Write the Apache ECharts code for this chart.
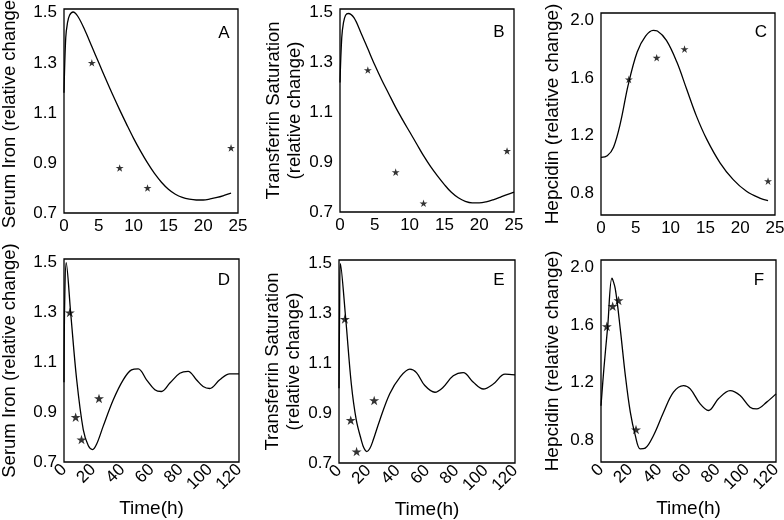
<!DOCTYPE html>
<html>
<head>
<meta charset="utf-8">
<script src="https://cdn.jsdelivr.net/npm/echarts@6/dist/echarts.min.js"></script>
<style>
  html, body { margin: 0; padding: 0; background: #fff; }
  #chart { width: 784px; height: 520px; }
</style>
</head>
<body>
<div id="chart"></div>
<script>
// measured time points (h)
const obsTime = [4, 8, 12, 24];

// panel A - serum iron, 0-25h
const ironShortT = [0, 0.25, 0.5, 0.8, 1.3, 2, 3, 4, 5, 6, 7, 8, 9, 10, 11, 12, 13, 14, 15, 16, 17, 18, 19, 20, 21, 22, 23, 24];
const ironShortV = [1.18, 1.4, 1.46, 1.49, 1.503, 1.485, 1.43, 1.365, 1.3, 1.235, 1.172, 1.112, 1.054, 0.998, 0.947, 0.9, 0.858, 0.823, 0.795, 0.775, 0.762, 0.755, 0.752, 0.752, 0.756, 0.762, 0.77, 0.779];
const ironObs = [1.3, 0.88, 0.8, 0.96];

// panel B - transferrin saturation, 0-25h
const tsatShortT = [0, 0.25, 0.5, 0.8, 1.2, 2, 3, 4, 5, 6, 7, 8, 9, 10, 11, 12, 13, 14, 15, 16, 17, 18, 19, 20, 21, 22, 23, 24, 25];
const tsatShortV = [1.22, 1.4, 1.46, 1.49, 1.497, 1.48, 1.42, 1.355, 1.29, 1.23, 1.175, 1.12, 1.07, 1.022, 0.974, 0.926, 0.883, 0.845, 0.81, 0.779, 0.757, 0.743, 0.737, 0.737, 0.741, 0.749, 0.759, 0.77, 0.78];
const tsatObs = [1.27, 0.86, 0.735, 0.945];

// panel C - hepcidin, 0-25h
const hepShortT = [0, 0.9, 1.8, 2.8, 3.9, 5.2, 6.4, 7.5, 8.1, 9.4, 10.9, 12.3, 13.7, 15.2, 17.1, 19, 20.9, 22.8, 24];
const hepShortV = [1.05, 1.06, 1.12, 1.29, 1.55, 1.78, 1.89, 1.93, 1.925, 1.86, 1.71, 1.523, 1.337, 1.174, 1.012, 0.895, 0.814, 0.767, 0.749];
const hepObs = [1.59, 1.74, 1.8, 0.885];

// panel D - serum iron, 0-120h
const ironLongT = [0, 0.5, 1.5, 4.6, 8.7, 13.2, 16.7, 19.6, 22.4, 26.9, 33.8, 40.6, 46.3, 50.9, 56.6, 62.3, 66.8, 72.6, 79.4, 85.1, 90.8, 95.4, 99.9, 106.8, 113.6, 120];
const ironLongV = [1.02, 1.35, 1.5, 1.297, 1.03, 0.83, 0.765, 0.75, 0.772, 0.844, 0.95, 1.03, 1.07, 1.074, 1.03, 0.99, 0.983, 1.017, 1.056, 1.064, 1.03, 1.003, 0.995, 1.03, 1.054, 1.054];
const ironLongObs = [1.3, 0.88, 0.79, 0.955];

// panel E - transferrin saturation, 0-120h
const tsatLongT = [0, 0.4, 1, 4.6, 8.4, 11.8, 15.3, 17, 19, 21, 23.2, 27.8, 34.6, 41.5, 48.3, 52.8, 58.5, 65.4, 71, 77.9, 84.7, 91.6, 98.4, 105.2, 113.2, 120];
const tsatLongV = [1.0, 1.3, 1.5, 1.278, 1.017, 0.872, 0.79, 0.76, 0.746, 0.758, 0.79, 0.872, 0.978, 1.044, 1.077, 1.063, 1.011, 0.984, 1.004, 1.05, 1.063, 1.024, 0.997, 1.017, 1.057, 1.054];
const tsatLongObs = [1.278, 0.872, 0.746, 0.951];

// panel F - hepcidin, 0-120h
const hepLongT = [0, 2, 4.6, 7.5, 9.8, 13.2, 16.7, 20.1, 23.5, 26.9, 30.3, 36, 42.9, 49.7, 56.6, 61.2, 68, 73.7, 80.5, 88.5, 95.4, 102.2, 106.8, 113.6, 120];
const hepLongV = [1.04, 1.3, 1.59, 1.924, 1.85, 1.573, 1.249, 0.995, 0.834, 0.741, 0.746, 0.834, 0.995, 1.134, 1.18, 1.157, 1.053, 1.007, 1.088, 1.145, 1.111, 1.03, 1.018, 1.065, 1.122];
const hepLongObs = [1.59, 1.73, 1.77, 0.875];

const ironTicks = [0.7, 0.9, 1.1, 1.3, 1.5];
const hepTicks = [0.8, 1.2, 1.6, 2.0];

const starPath = 'path://M100,0L122.45,69.1L195.1,69.1L136.3,111.8L158.8,180.9L100,138.2L41.2,180.9L63.7,111.8L4.9,69.1L77.55,69.1Z';

function pairs(xs, ys) {
  return xs.map((x, i) => [x, ys[i]]);
}

const panels = [
  { letter: 'A', grid: { left: 64, top: 9, width: 174, height: 204 }, xMax: 25, xInt: 5, yMin: 0.7, yMax: 1.515, ticks: ironTicks,
    name: 'Serum Iron (relative change)', gap: 44, nameSize: 18.5, t: ironShortT, v: ironShortV, obs: ironObs, star: 8, lp: [224, 33] },
  { letter: 'B', grid: { left: 340, top: 9, width: 174, height: 203 }, xMax: 25, xInt: 5, yMin: 0.7, yMax: 1.515, ticks: ironTicks,
    name: 'Transferrin Saturation\n(relative change)', gap: 35, nameSize: 18.5, t: tsatShortT, v: tsatShortV, obs: tsatObs, star: 8, lp: [499, 32] },
  { letter: 'C', grid: { left: 601, top: 13, width: 174, height: 202 }, xMax: 25, xInt: 5, yMin: 0.65, yMax: 2.05, ticks: hepTicks,
    name: 'Hepcidin (relative change)', gap: 38, nameSize: 19, t: hepShortT, v: hepShortV, obs: hepObs, star: 8, lp: [761, 32] },
  { letter: 'D', grid: { left: 64, top: 259, width: 175, height: 203 }, xMax: 120, xInt: 20, yMin: 0.7, yMax: 1.515, ticks: ironTicks,
    name: 'Serum Iron (relative change)', gap: 44, nameSize: 18.5, t: ironLongT, v: ironLongV, obs: ironLongObs, star: 10, lp: [224, 280], bottom: true },
  { letter: 'E', grid: { left: 339, top: 260, width: 176, height: 203 }, xMax: 120, xInt: 20, yMin: 0.7, yMax: 1.515, ticks: ironTicks,
    name: 'Transferrin Saturation\n(relative change)', gap: 35, nameSize: 18.5, t: tsatLongT, v: tsatLongV, obs: tsatLongObs, star: 10, lp: [499, 280], bottom: true },
  { letter: 'F', grid: { left: 601, top: 260, width: 175, height: 202 }, xMax: 120, xInt: 20, yMin: 0.65, yMax: 2.05, ticks: hepTicks,
    name: 'Hepcidin (relative change)', gap: 38, nameSize: 19, t: hepLongT, v: hepLongV, obs: hepLongObs, star: 10, lp: [759, 280], bottom: true }
];

const font = 'Liberation Sans, Arial, sans-serif';
const chart = echarts.init(document.getElementById('chart'), null, { renderer: 'canvas' });

const option = {
  animation: false,
  backgroundColor: '#fff',
  textStyle: { fontFamily: font },
  grid: [], xAxis: [], yAxis: [], series: [], graphic: []
};

panels.forEach((p, i) => {
  option.grid.push(Object.assign({
    show: true, borderColor: '#000', borderWidth: 1.3,
    containLabel: false, outerBoundsMode: 'none'
  }, p.grid));
  option.xAxis.push({
    gridIndex: i, type: 'value', min: 0, max: p.xMax, interval: p.xInt,
    splitLine: { show: false },
    axisLine: { show: false },
    axisTick: { show: false },
    axisLabel: { color: '#000', fontSize: 17, margin: 5, rotate: p.bottom ? 45 : 0 },
    name: p.bottom ? 'Time(h)' : '',
    nameLocation: 'middle', nameGap: 37,
    nameTextStyle: { color: '#000', fontSize: 19 }
  });
  option.yAxis.push({
    gridIndex: i, type: 'value', min: p.yMin, max: p.yMax,
    splitLine: { show: false },
    axisLine: { show: false },
    axisTick: { show: false },
    axisLabel: {
      color: '#000', fontSize: 17, margin: 7,
      customValues: p.ticks,
      formatter: v => v.toFixed(1)
    },
    name: p.name, nameLocation: 'middle', nameGap: p.gap,
    nameTextStyle: { color: '#000', fontSize: p.nameSize, lineHeight: 21 }
  });
  option.series.push({
    type: 'line', xAxisIndex: i, yAxisIndex: i,
    data: pairs(p.t, p.v), smooth: 0.35, showSymbol: false,
    lineStyle: { color: '#000', width: 1.3 }
  });
  option.series.push({
    type: 'scatter', xAxisIndex: i, yAxisIndex: i,
    data: pairs(obsTime, p.obs), symbol: starPath, symbolSize: p.star, symbolKeepAspect: true,
    itemStyle: { color: '#000' }
  });
  option.graphic.push({
    type: 'text', x: p.lp[0], y: p.lp[1],
    style: { text: p.letter, fill: '#000', font: '17px ' + font, textAlign: 'center', textVerticalAlign: 'middle' }
  });
});

chart.setOption(option);
</script>
</body>
</html>
